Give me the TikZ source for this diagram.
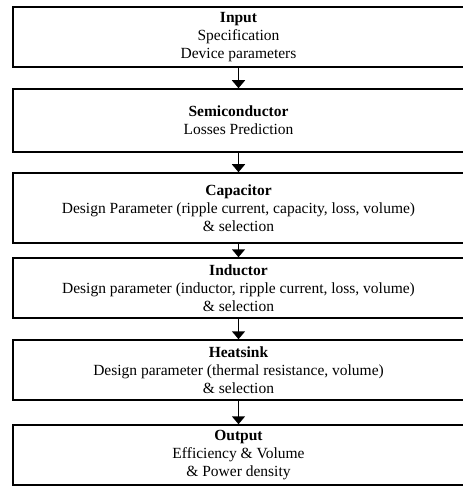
\documentclass[tikz,border=0pt]{standalone}
\usepackage{fontspec}
\setmainfont{Liberation Serif}
\usetikzlibrary{arrows.meta}

\begin{document}
\begin{tikzpicture}[x=1pt,y=-1pt,
    stage/.style={draw,line width=1.5pt,minimum width=451pt,align=center,
      inner sep=0pt,font=\fontsize{15.5}{18}\selectfont},
    flow/.style={line width=1.5pt,-{Triangle[width=13pt,length=8pt]}}]
    \useasboundingbox (0,0) rectangle (462,486);
    \node[stage,minimum height=60pt] (input) at (238.5,37) {\textbf{Input}\\Specification\\Device parameters};
    \node[stage,minimum height=63pt] (semi) at (238.5,120.5) {\textbf{Semiconductor}\\Losses Prediction};
    \node[stage,minimum height=70pt] (cap) at (238.5,208) {\textbf{Capacitor}\\Design Parameter (ripple current, capacity, loss, volume)\\\& selection};
    \node[stage,minimum height=60pt] (ind) at (238.5,288) {\textbf{Inductor}\\Design parameter (inductor, ripple current, loss, volume)\\\& selection};
    \node[stage,minimum height=60pt] (heat) at (238.5,370) {\textbf{Heatsink}\\Design parameter (thermal resistance, volume)\\\& selection};
    \node[stage,minimum height=60pt] (output) at (238.5,455) {\textbf{Output}\\Efficiency \& Volume\\\& Power density};
    \draw[flow] (input.south) -- (semi.north);
    \draw[flow] (semi.south) -- (cap.north);
    \draw[flow] (cap.south) -- (ind.north);
    \draw[flow] (ind.south) -- (heat.north);
    \draw[flow] (heat.south) -- (output.north);
  \end{tikzpicture}
\end{document}
